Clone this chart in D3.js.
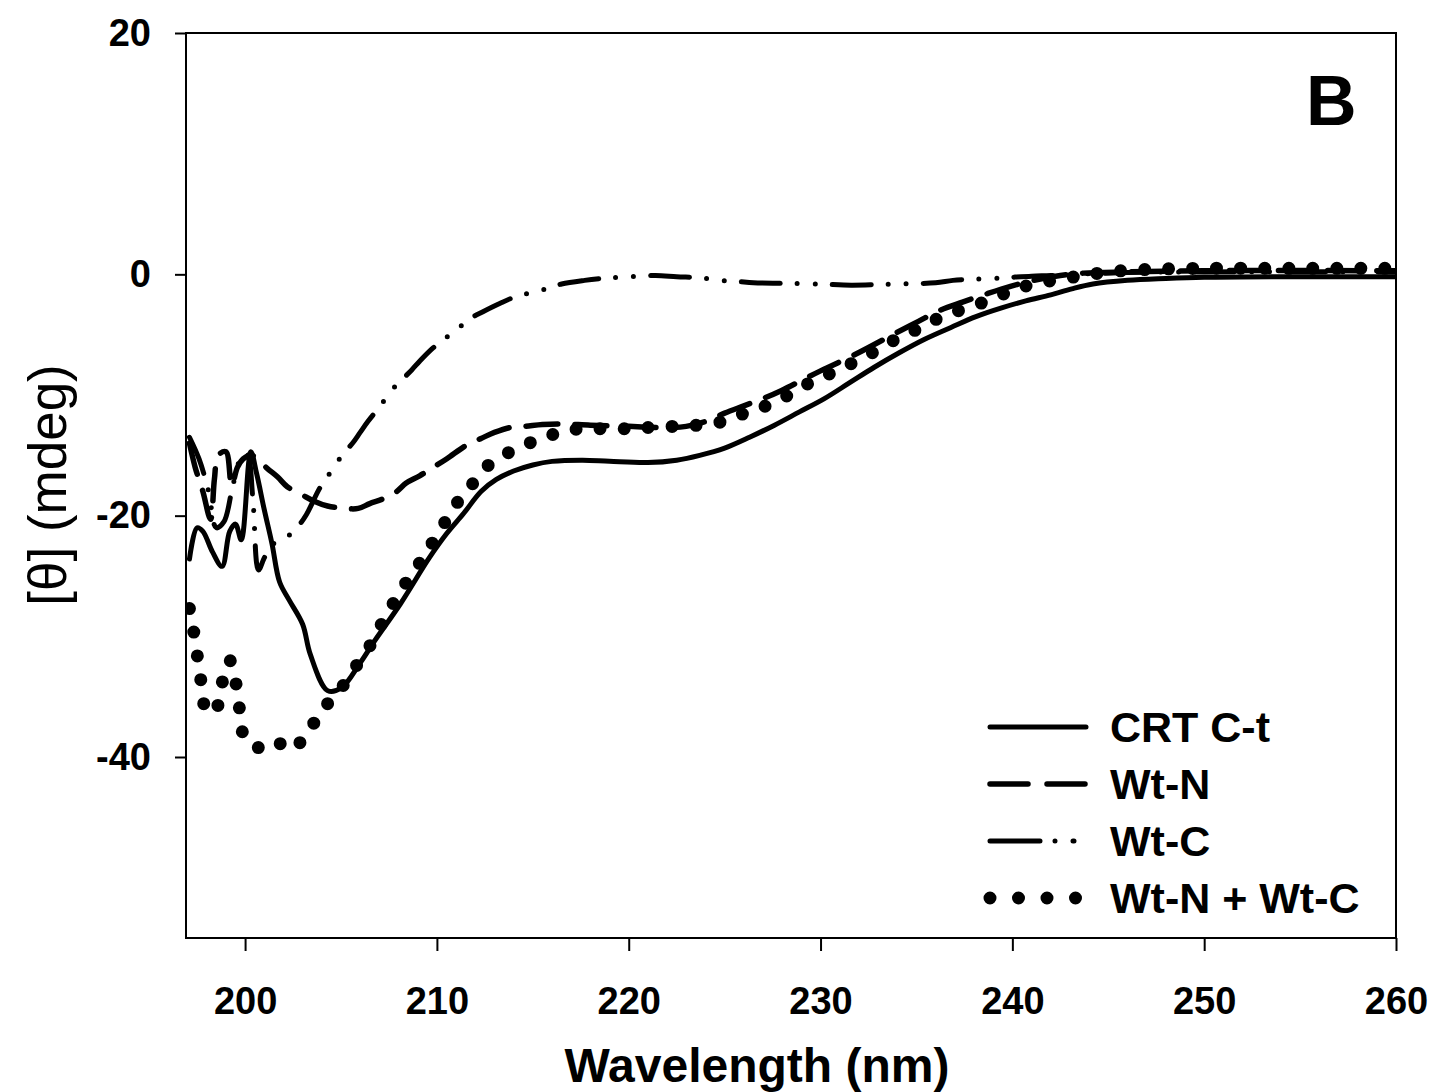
<!DOCTYPE html>
<html>
<head>
<meta charset="utf-8">
<script src="https://cdn.jsdelivr.net/npm/d3@7"></script>
<style>
html,body{margin:0;padding:0;background:#fff;}
svg{display:block;font-family:"Liberation Sans",Arial,sans-serif;}
</style>
</head>
<body>
<svg id="chart" width="1440" height="1092"></svg>
<script>
// ---- data ----
const xTicks = [200, 210, 220, 230, 240, 250, 260];
const yTicks = [20, 0, -20, -40];
const seriesNames = ["CRT C-t", "Wt-N", "Wt-C", "Wt-N + Wt-C"];

const crtX = [197.1,197.5,197.8,198.3,198.8,199.2,199.5,199.8,200.3,200.6,201.0,201.4,201.8,202.3,203.0,203.4,204.3,205.0,206.0,206.7,208.1,209.6,210.5,211.4,212.3,213.1,214.0,215.0,216.0,217.6,219.0,221.0,222.5,223.7,225.0,226.3,227.6,228.9,230.2,231.5,232.8,234.1,235.4,236.8,238.1,239.4,240.7,242.0,243.1,244.2,246.0,248.0,250.0,254.0,260.0];
const crtY = [-23.6,-21.0,-21.3,-23.0,-24.2,-21.3,-20.7,-22.0,-14.7,-16.5,-19.5,-22.3,-25.5,-27.0,-29.0,-31.5,-34.5,-34.3,-32.2,-30.5,-27.3,-23.5,-21.5,-19.8,-18.0,-17.0,-16.3,-15.8,-15.5,-15.4,-15.5,-15.6,-15.4,-15.0,-14.4,-13.5,-12.5,-11.4,-10.3,-9.0,-7.7,-6.5,-5.4,-4.4,-3.5,-2.8,-2.2,-1.7,-1.2,-0.8,-0.5,-0.35,-0.25,-0.2,-0.2];

const wtnX = [197.1,197.4,197.8,198.2,198.4,198.6,199.0,199.3,199.6,199.9,200.3,200.7,201.1,201.7,202.2,203.0,203.6,204.3,205.2,205.9,206.5,207.2,207.9,208.4,209.1,209.8,210.5,211.6,212.3,213.0,213.8,214.6,215.5,216.4,218.0,220.0,222.0,223.0,224.0,225.0,226.0,227.0,228.0,229.0,230.0,231.6,232.7,234.0,235.1,236.2,237.4,238.7,239.9,241.1,242.5,243.7,246.0,250.0,260.0];
const wtnY = [-14.0,-16.0,-18.0,-20.3,-17.0,-15.0,-14.7,-17.5,-16.0,-15.3,-15.0,-15.3,-16.0,-16.8,-17.6,-18.3,-18.8,-19.2,-19.4,-19.4,-19.0,-18.6,-18.0,-17.3,-16.7,-16.0,-15.3,-14.1,-13.6,-13.1,-12.7,-12.6,-12.45,-12.4,-12.5,-12.6,-12.7,-12.6,-12.2,-11.5,-10.9,-10.3,-9.6,-8.8,-8.0,-6.8,-5.9,-4.8,-3.9,-3.0,-2.3,-1.6,-1.0,-0.5,-0.1,0.1,0.2,0.3,0.3];

const wtcX = [197.1,197.6,198.1,198.5,198.9,199.3,199.7,200.1,200.4,200.7,201.0,201.4,202.0,202.8,203.2,203.9,204.5,205.1,205.6,206.0,206.4,207.0,207.7,208.2,208.7,209.1,209.8,210.6,211.1,211.7,212.4,213.3,214.2,215.0,215.7,216.5,217.7,218.9,220.0,221.4,222.5,223.8,224.7,225.7,226.5,228.0,229.9,231.6,233.0,234.1,236.0,236.9,238.0,239.4,241.0,242.0,244.0,246.0,250.0,260.0];
const wtcY = [-13.5,-15.3,-18.0,-21.0,-20.5,-18.0,-15.5,-14.8,-18.5,-24.5,-23.5,-22.4,-22.0,-20.8,-19.9,-17.7,-16.3,-14.9,-14.0,-13.1,-12.2,-11.0,-9.5,-8.7,-7.9,-7.2,-6.1,-5.1,-4.5,-3.7,-3.1,-2.4,-1.8,-1.5,-1.2,-0.8,-0.5,-0.3,-0.2,-0.1,-0.2,-0.3,-0.5,-0.6,-0.7,-0.75,-0.8,-0.9,-0.85,-0.8,-0.7,-0.5,-0.4,-0.3,-0.15,-0.1,0.05,0.15,0.2,0.2];

const sumX = [197.1,197.3,197.5,197.7,197.9,198.3,198.7,198.9,199.2,199.5,199.7,199.9,200.4,200.9,201.6,202.3,203.2,203.8,204.5,205.2,205.9,206.5,207.0,207.6,208.2,208.9,209.5,210.1,210.7,211.3,212.0,212.7,213.7,214.8,215.8,216.9,218.2,219.7,220.9,222.3,223.6,224.9,225.9,227.0,228.1,229.3,230.4,231.6,232.7,233.9,235.1,236.2,237.4,238.7,239.9,241.1,242.5,243.7,245.0,247.0,250.0,255.0,260.0];
const sumY = [-27.7,-29.4,-31.5,-33.7,-35.8,-36.4,-35.2,-32.9,-32.0,-33.7,-35.9,-38.1,-39.1,-39.2,-38.7,-39.4,-38.2,-36.6,-35.2,-33.9,-32.2,-30.8,-29.3,-27.6,-26.0,-24.4,-22.9,-21.4,-19.8,-18.4,-17.1,-15.8,-14.8,-14.0,-13.4,-12.9,-12.8,-12.8,-12.7,-12.6,-12.5,-12.2,-11.6,-11.0,-10.2,-9.1,-8.3,-7.4,-6.5,-5.4,-4.5,-3.6,-2.9,-2.2,-1.4,-0.8,-0.4,-0.1,0.2,0.4,0.5,0.5,0.5];

// ---- layout ----
const svg = d3.select("#chart");
const L = 186, R = 1396, T = 33, B = 938;
const x = d3.scaleLinear().domain([196.92, 260]).range([L, R]);
const y = d3.scaleLinear().domain([-55, 20]).range([B, T]);

svg.append("rect").attr("width",1440).attr("height",1092).attr("fill","#fff");

svg.append("clipPath").attr("id","clip")
  .append("rect").attr("x",L).attr("y",T).attr("width",R-L).attr("height",B-T);

const styles = [
  {w:5, dash:null, cap:"round"},
  {w:5.5, dash:"32,17", cap:"round"},
  {w:5, dash:"39,17,0,18,0,17", cap:"round"},
  {w:13, dash:"0,24", cap:"round"}
];
const xs = [crtX, wtnX, wtcX, sumX];
const ys = [crtY, wtnY, wtcY, sumY];

const line = d3.line().x(d=>x(d[0])).y(d=>y(d[1])).curve(d3.curveCatmullRom.alpha(0.5));
const g = svg.append("g").attr("clip-path","url(#clip)");
[3,2,1,0].forEach(i=>{
  const pts = xs[i].map((v,k)=>[v, ys[i][k]]);
  const p = g.append("path").attr("d", line(pts)).attr("fill","none")
    .attr("stroke","#000").attr("stroke-width",styles[i].w)
    .attr("stroke-linecap",styles[i].cap).attr("stroke-linejoin","round");
  if (styles[i].dash) p.attr("stroke-dasharray", styles[i].dash);
});

// ---- axes ----
const fmt = d => String(d);
const xAxis = d3.axisBottom(x).tickValues(xTicks).tickSize(13).tickPadding(36).tickFormat(fmt);
const gx = svg.append("g").attr("transform",`translate(0,${B})`).call(xAxis);
gx.select(".domain").remove();
gx.selectAll("line").attr("stroke","#000").attr("stroke-width",2);
gx.selectAll("text").attr("font-size",38).attr("font-weight","bold").attr("fill","#000")
  .attr("font-family","'Liberation Sans',Arial,sans-serif");

const yAxis = d3.axisLeft(y).tickValues(yTicks).tickSize(11).tickPadding(24).tickFormat(fmt);
const gy = svg.append("g").attr("transform",`translate(${L},0)`).call(yAxis);
gy.select(".domain").remove();
gy.selectAll("line").attr("stroke","#000").attr("stroke-width",2);
gy.selectAll("text").attr("font-size",38).attr("font-weight","bold").attr("fill","#000")
  .attr("font-family","'Liberation Sans',Arial,sans-serif");

// frame
svg.append("rect").attr("x",L).attr("y",T).attr("width",R-L).attr("height",B-T)
  .attr("fill","none").attr("stroke","#000").attr("stroke-width",2);

// titles
svg.append("text").attr("x",757).attr("y",1082).attr("text-anchor","middle")
  .attr("font-size",48).attr("font-weight","bold").text("Wavelength (nm)");
svg.append("text").attr("transform","translate(66,485) rotate(-90)").attr("text-anchor","middle")
  .attr("font-size",53).attr("font-weight","normal").text("[θ] (mdeg)");

svg.append("text").attr("x",1306).attr("y",125).attr("font-size",70).attr("font-weight","bold").text("B");

// legend
const legY = [727, 784, 841, 898];
const legDash = [null, "38,19", "50,15,0,18", "0,28.5"];
const legX1 = [990, 990, 990, 990], legX2 = [1086, 1086, 1074, 1076];
seriesNames.forEach((name,i)=>{
  const p = svg.append("line").attr("x1",legX1[i]).attr("x2",legX2[i])
    .attr("y1",legY[i]).attr("y2",legY[i]).attr("stroke","#000")
    .attr("stroke-width",styles[i].w).attr("stroke-linecap","round");
  if (legDash[i]) p.attr("stroke-dasharray", legDash[i]);
  svg.append("text").attr("x",1110).attr("y",legY[i]+15).attr("font-size",43)
    .attr("font-weight","bold").text(name);
});
</script>
</body>
</html>
